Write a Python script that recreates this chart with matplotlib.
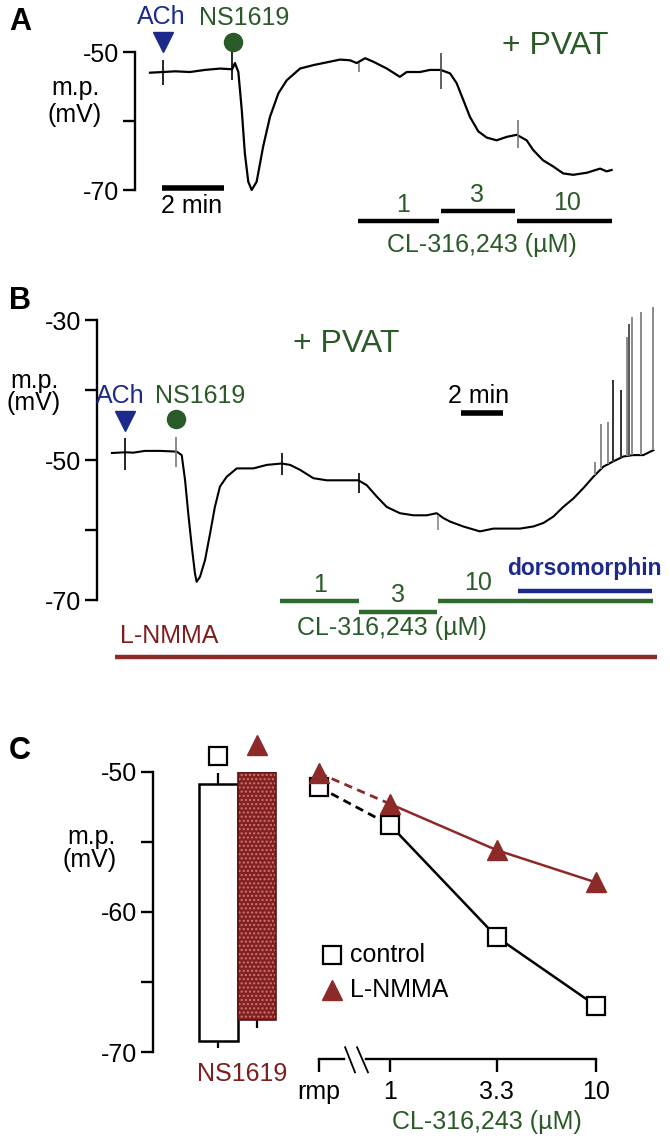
import numpy as np
import matplotlib.pyplot as plt

# fonts: Arial-like with fallback for the micro sign
plt.rcParams['font.family'] = ['Liberation Sans', 'DejaVu Sans']
plt.rcParams['hatch.linewidth'] = 1.0

# ---------------- data ----------------
# Panel A trace (time in min, membrane potential in mV)
tA = [0, 0.42, 0.81, 1.29, 1.77, 2.26, 2.65, 2.74, 2.85, 2.96, 3.06, 3.17, 3.28, 3.44,
      3.65, 3.87, 4.14, 4.41, 4.84, 5.27, 5.81, 6.13, 6.45, 6.67, 6.94, 7.2, 7.64, 8.06,
      8.28, 8.71, 9.03, 9.38, 9.68, 9.89, 10.11, 10.32, 10.59, 10.86, 11.18, 11.51, 11.83,
      12.15, 12.36, 12.68, 13.01, 13.33, 13.65, 14.09, 14.52, 14.73, 14.89]
vA = [-53.0, -52.9, -52.8, -52.9, -52.6, -52.4, -52.5, -51.6, -52.9, -58.4, -64.7, -68.8,
      -70.0, -68.8, -63.7, -59.4, -56.0, -54.1, -52.4, -51.9, -51.4, -51.1, -51.2, -51.6,
      -50.9, -51.4, -52.4, -53.6, -52.9, -52.9, -52.6, -52.6, -53.1, -54.5, -57.0, -59.4,
      -61.5, -62.4, -62.8, -62.3, -62.0, -62.8, -64.2, -65.7, -66.6, -67.6, -67.8, -67.5,
      -66.9, -67.3, -67.1]
ach_A, ns_A = 0.42, 2.65
cl_conc_A = ['1', '3', '10']
cl_start_A = [6.71, 9.39, 11.84]
cl_end_A = [9.32, 11.77, 14.9]
marks_A_t = [0.42, 2.65, 6.74, 9.38, 11.86]
marks_A_lo = [-54.8, -54.1, -52.9, -55.4, -63.9]
marks_A_hi = [-51.2, -49.7, -51.6, -50.1, -59.9]

# Panel B trace
tB = [0, 0.62, 1.02, 1.57, 2.29, 3.08, 3.32, 3.48, 3.63, 3.8, 3.95, 4.03, 4.19, 4.43, 4.67,
      4.9, 5.14, 5.46, 5.94, 6.73, 7.37, 8.08, 8.48, 8.95, 9.59, 10.22, 10.86, 11.73, 12.13,
      12.6, 13.08, 13.71, 14.35, 14.99, 15.46, 15.78, 16.1, 16.73, 17.52, 18.16, 18.8, 19.43,
      20.06, 20.54, 21.01, 21.49, 21.97, 22.45, 22.92, 23.4, 23.87, 24.35, 24.82, 25.3, 25.78]
vB = [-49.0, -48.9, -48.95, -48.7, -48.7, -48.8, -49.3, -52.9, -57.6, -62.4, -66.2, -67.4,
      -66.7, -64.3, -60.5, -56.7, -53.8, -52.4, -51.2, -51.2, -50.7, -50.5, -50.7, -51.4,
      -52.6, -52.9, -52.9, -52.9, -53.6, -55.2, -56.7, -57.6, -57.9, -57.9, -57.6, -58.3,
      -58.8, -59.5, -60.2, -59.8, -59.8, -59.8, -59.5, -59.0, -58.1, -56.7, -55.5, -54.0,
      -52.4, -50.95, -50.2, -49.5, -49.3, -49.3, -48.6]
spike_t = [23.0, 23.29, 23.6, 23.84, 24.22, 24.51, 24.63, 24.76, 25.2, 25.78]
spike_peak = [-50.3, -44.8, -44.5, -38.6, -40.0, -32.4, -30.5, -29.5, -28.8, -28.2]
ach_B, ns_B = 0.62, 3.05
cl_conc_B = ['1', '3', '10']
cl_start_B = [8.0, 11.76, 15.52]
cl_end_B = [11.76, 15.48, 25.76]
dorso_B = [19.33, 25.71]
lnmma_B = [0.14, 25.95]
marks_B_t = [0.62, 3.05, 8.1, 11.78, 15.52]
marks_B_lo = [-51.4, -51.0, -52.1, -54.7, -60.0]
marks_B_hi = [-46.9, -46.7, -49.0, -51.9, -57.9]

# Panel C: NS1619 bars (rmp top, peak bottom)
bar_top = [-50.9, -50.0]
bar_bottom = [-69.2, -67.7]
bar_err_top = [0.8, 0.7]
bar_err_bottom = [0.5, 0.6]
# Panel C: CL-316,243 concentration response
conc = [1, 3.3, 10]
conc_labels = ['rmp', '1', '3.3', '10']
ctrl_mp = [-51.1, -53.8, -61.8, -66.7]
ctrl_err = [0.5, 0.4, 0.5, 0.4]
lnmma_mp = [-50.1, -52.3, -55.6, -57.9]
lnmma_err = [0.4, 0.4, 0.5, 0.5]

# ---------------- style ----------------
BLUE = '#1c2a8c'
GREEN = '#2a5a28'
GREEN_L = '#2f6a2d'
RED = '#7d1f1f'
RED_L = '#8c2a2a'
FS = 18

W, H = 670, 1144
fig = plt.figure(figsize=(W / 100, H / 100), dpi=100)


def rect(x0, y0, x1, y1):
    return [x0 / W, 1 - y1 / H, (x1 - x0) / W, (y1 - y0) / H]


def label(x, y, s, **kw):
    kw.setdefault('ha', 'center')
    kw.setdefault('va', 'center')
    kw.setdefault('fontsize', FS)
    fig.text(x / W, 1 - y / H, s, **kw)


def left_axis(ax, ticks, labels):
    for s in ['top', 'right', 'bottom']:
        ax.spines[s].set_visible(False)
    ax.spines['left'].set_linewidth(1.7)
    ax.set_yticks(ticks)
    ax.set_yticklabels(labels)
    ax.tick_params(axis='y', length=8.5, width=1.7, labelsize=FS, pad=3)
    ax.set_xticks([])
    ax.patch.set_visible(False)


# ---------------- panel A ----------------
axA = fig.add_axes(rect(135, 52, 620, 190))
axA.set_xlim(-15 / 31, 470 / 31)
axA.set_ylim(-70, -50)
left_axis(axA, [-70, -60, -50], ['-70', '', '-50'])
axA.plot(tA, vA, color='k', lw=1.6, clip_on=False)
axA.vlines(marks_A_t, marks_A_lo, marks_A_hi, colors=['k', 'k', '#777777', '#444444', '#777777'],
           lw=1.2, clip_on=False)
axA.plot(ach_A, -48.55, marker='v', ms=14, color=BLUE, clip_on=False)
axA.plot(ns_A + 0.03, -48.55, marker='o', ms=13, color=GREEN, clip_on=False)
axA.plot([0.39, 2.39], [-69.7, -69.7], color='k', lw=4, solid_capstyle='butt', clip_on=False)
cl_y_A = [-74.45, -73.0, -74.45]
for s, e, y in zip(cl_start_A, cl_end_A, cl_y_A):
    axA.plot([s, e], [y, y], color='k', lw=3.2, solid_capstyle='butt', clip_on=False)

label(20, 22, 'A', fontsize=22, fontweight='bold')
label(161, 17, 'ACh', color=BLUE)
label(244, 18, 'NS1619', color=GREEN)
label(555, 46, '+ PVAT', color=GREEN, fontsize=23)
label(76, 88, 'm.p.')
label(75, 115, '(mV)')
label(192, 206, '2 min')
for txt, x, y in zip(cl_conc_A, [403, 477, 567], [205, 195, 203]):
    label(x, y, txt, color=GREEN)
label(482, 245, 'CL-316,243 (µM)', color=GREEN)

# ---------------- panel B ----------------
axB = fig.add_axes(rect(97, 320, 660, 600))
axB.set_xlim(-15 / 21, 548 / 21)
axB.set_ylim(-70, -30)
left_axis(axB, [-70, -60, -50, -40, -30], ['-70', '', '-50', '', '-30'])
axB.plot(tB, vB, color='k', lw=1.5, clip_on=False)
spike_base = np.interp(spike_t, tB, vB)
axB.vlines(spike_t, spike_base, spike_peak,
           colors=['#8a8a8a', '#8a8a8a', '#8a8a8a', '#333333', '#333333', '#8a8a8a',
                   '#555555', '#8a8a8a', '#8a8a8a', '#8a8a8a'], lw=1.4, clip_on=False)
axB.vlines(marks_B_t, marks_B_lo, marks_B_hi, colors=['k', '#777777', 'k', 'k', '#888888'],
           lw=1.2, clip_on=False)
axB.plot(ach_B, -44.4, marker='v', ms=14, color=BLUE, clip_on=False)
axB.plot(ns_B, -44.1, marker='o', ms=13, color=GREEN, clip_on=False)
axB.plot([16.62, 18.62], [-43.3, -43.3], color='k', lw=4, solid_capstyle='butt', clip_on=False)
cl_y_B = [-70.14, -71.7, -70.14]
for s, e, y in zip(cl_start_B, cl_end_B, cl_y_B):
    axB.plot([s, e], [y, y], color=GREEN_L, lw=3.2, solid_capstyle='butt', clip_on=False)
axB.plot(dorso_B, [-68.7, -68.7], color=BLUE, lw=3.2, solid_capstyle='butt', clip_on=False)
axB.plot(lnmma_B, [-78.1, -78.1], color=RED_L, lw=3.2, solid_capstyle='butt', clip_on=False)

label(20, 301, 'B', fontsize=22, fontweight='bold')
label(35, 381, 'm.p.')
label(34, 403, '(mV)')
label(120, 396, 'ACh', color=BLUE)
label(200, 396, 'NS1619', color=GREEN)
label(346, 344, '+ PVAT', color=GREEN, fontsize=23)
label(479, 396, '2 min')
for txt, x, y in zip(cl_conc_B, [320, 398, 478], [585, 595, 583]):
    label(x, y, txt, color=GREEN)
label(584, 569, 'dorsomorphin', color=BLUE, fontweight='bold', fontsize=16.5)
label(392, 628, 'CL-316,243 (µM)', color=GREEN)
label(169, 636, 'L-NMMA', color=RED)

# ---------------- panel C: bars ----------------
axC = fig.add_axes(rect(153, 771.7, 290, 1052))
axC.set_xlim(-1.70, 1.857)
axC.set_ylim(-70, -50)
left_axis(axC, [-70, -65, -60, -55, -50], ['-70', '', '-60', '', '-50'])
xb = np.arange(2)
heights = np.array(bar_top) - np.array(bar_bottom)
axC.vlines(xb, np.array(bar_top), np.array(bar_top) + np.array(bar_err_top), colors='k', lw=1.6)
axC.vlines(xb, np.array(bar_bottom) - np.array(bar_err_bottom), np.array(bar_bottom), colors='k',
           lw=1.6, clip_on=False)
axC.bar(xb[0], heights[0], bottom=bar_bottom[0], width=1.0, facecolor='white', edgecolor='k',
        lw=1.8, zorder=3)
axC.bar(xb[1], heights[1], bottom=bar_bottom[1], width=1.0, facecolor='#84201f',
        edgecolor='#c77a72', hatch='....', lw=0, zorder=3)
axC.bar(xb[1], heights[1], bottom=bar_bottom[1], width=1.0, fill=False, edgecolor='#5e1414',
        lw=1.2, zorder=4)
axC.plot(xb[0], -48.9, 's', ms=13, mfc='white', mec='k', mew=1.6, clip_on=False)
axC.plot(xb[1], -48.1, '^', ms=14, color=RED_L, clip_on=False)

label(20, 751, 'C', fontsize=22, fontweight='bold')
label(92, 837, 'm.p.')
label(90, 860, '(mV)')
label(242, 1074, 'NS1619', color=RED)

# ---------------- panel C: concentration response ----------------
rmp_pos = -0.345
xl = np.concatenate([[rmp_pos], np.log10(conc)])
axL = fig.add_axes(rect(300, 771.7, 620, 1052))
axL.set_xlim(-0.437, 1.1165)
axL.set_ylim(-70, -50)
axL.patch.set_visible(False)
for s in ['top', 'right', 'left']:
    axL.spines[s].set_visible(False)
axL.spines['bottom'].set_position(('data', -70.52))
axL.spines['bottom'].set_bounds(xl[0], xl[-1])
axL.spines['bottom'].set_linewidth(1.7)
axL.set_yticks([])
axL.set_xticks(xl)
axL.set_xticklabels(conc_labels)
axL.tick_params(axis='x', length=9, width=1.7, labelsize=FS, pad=6)

# axis break
axL.plot([-0.205, -0.135], [-70.52, -70.52], color='white', lw=4, clip_on=False, zorder=5)
axL.plot([-0.218, -0.170], [-69.66, -71.45], color='k', lw=1.3, clip_on=False, zorder=6)
axL.plot([-0.160, -0.107], [-69.66, -71.45], color='k', lw=1.3, clip_on=False, zorder=6)

for mp, err, col in [(ctrl_mp, ctrl_err, 'k'), (lnmma_mp, lnmma_err, RED_L)]:
    mp = np.array(mp)
    err = np.array(err)
    axL.vlines(xl, mp - err, mp + err, colors=col, lw=1.4, zorder=2)
    axL.plot(xl[:2], mp[:2], color=col, lw=2.0, ls=(0, (3, 2)), zorder=2)
    axL.plot(xl[1:], mp[1:], color=col, lw=1.8, zorder=2)
axL.plot(xl, ctrl_mp, 's', ms=13, mfc='white', mec='k', mew=1.6, zorder=4, clip_on=False)
axL.plot(xl, lnmma_mp, '^', ms=14, color=RED_L, zorder=5, clip_on=False)

# legend
axL.plot(-0.282, -63.09, 's', ms=13, mfc='white', mec='k', mew=1.6, clip_on=False)
axL.plot(-0.282, -65.6, '^', ms=14, color=RED_L, clip_on=False)
label(350, 955, 'control', ha='left')
label(350, 990, 'L-NMMA', ha='left')
label(487, 1122, 'CL-316,243 (µM)', color=GREEN)

fig.savefig('out.png', dpi=100)
